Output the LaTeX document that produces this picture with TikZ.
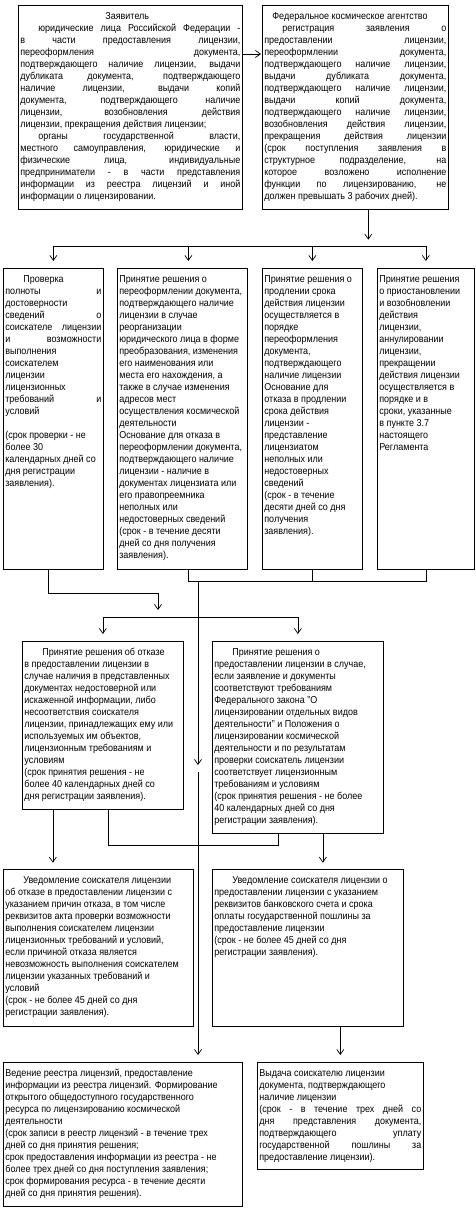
\documentclass[tikz,border=0pt]{standalone}
\usepackage{fontspec}
\setmainfont{Liberation Sans}[FakeStretch=0.9]
\usetikzlibrary{arrows.meta}
\hbadness=10000
\hfuzz=2pt
\newcommand{\blocktext}[3]{\parbox[t][#2][t]{#1}{\fontsize{10}{12}\selectfont\rule{0pt}{14pt}#3}}

\begin{document}
\begin{tikzpicture}[
  x=1pt, y=-1pt,
  flowbox/.style={draw, line width=0.7pt, inner xsep=2pt, inner ysep=0pt, anchor=north west},
  flow/.style={-{Straight Barb[length=5pt,width=7pt]}, line width=0.7pt, shorten >=7pt},
  link/.style={line width=0.7pt}
]
\useasboundingbox (0,0) rectangle (476,1209);

\node[flowbox] (app) at (18,5) {\blocktext{220pt}{204pt}{%
\hspace*{85pt}Заявитель\\
\hspace*{18pt}юридические лица Российской Федерации -\linebreak
в части предоставления лицензии,\linebreak
переоформления документа,\linebreak
подтверждающего наличие лицензии, выдачи\linebreak
дубликата документа, подтверждающего\linebreak
наличие лицензии, выдачи копий\linebreak
документа, подтверждающего наличие\linebreak
лицензии, возобновления действия\linebreak
лицензии, прекращения действия лицензии;\\
\hspace*{18pt}органы государственной власти,\linebreak
местного самоуправления, юридические и\linebreak
физические лица, индивидуальные\linebreak
предприниматели - в части представления\linebreak
информации из реестра лицензий и иной\linebreak
информации о лицензировании.}};

\node[flowbox] (agency) at (262,5) {\blocktext{182pt}{204pt}{%
\hspace*{8pt}Федеральное космическое агентство\\
\hspace*{18pt}регистрация заявления о\linebreak
предоставлении лицензии,\linebreak
переоформлении документа,\linebreak
подтверждающего наличие лицензии,\linebreak
выдачи дубликата документа,\linebreak
подтверждающего наличие лицензии,\linebreak
выдачи копий документа,\linebreak
подтверждающего наличие лицензии,\linebreak
возобновления действия лицензии,\linebreak
прекращения действия лицензии\linebreak
(срок поступления заявления в\linebreak
структурное подразделение, на\linebreak
которое возложено исполнение\linebreak
функции по лицензированию, не\linebreak
должен превышать 3 рабочих дней).}};

\node[flowbox] (check) at (3,268) {\blocktext{96pt}{301pt}{%
\hspace*{18pt}Проверка\\
полноты и\linebreak
достоверности\\
сведений о\linebreak
соискателе лицензии\linebreak
и возможности\linebreak
выполнения\\
соискателем\\
лицензии\\
лицензионных\\
требований и\linebreak
условий\\[12pt]
(срок проверки - не\\
более 30\\
календарных дней со\\
дня регистрации\\
заявления).}};

\node[flowbox] (reissue) at (117,268) {\blocktext{126pt}{301pt}{%
Принятие решения о\\
переоформлении документа,\\
подтверждающего наличие\\
лицензии в случае\\
реорганизации\\
юридического лица в форме\\
преобразования, изменения\\
его наименования или\\
места его нахождения, а\\
также в случае изменения\\
адресов мест\\
осуществления космической\\
деятельности\\
Основание для отказа в\\
переоформлении документа,\\
подтверждающего наличие\\
лицензии - наличие в\\
документах лицензиата или\\
его правопреемника\\
неполных или\\
недостоверных сведений\\
(срок - в течение десяти\\
дней со дня получения\\
заявления).}};

\node[flowbox] (prolong) at (262,268) {\blocktext{96pt}{301pt}{%
Принятие решения о\\
продлении срока\\
действия лицензии\\
осуществляется в\\
порядке\\
переоформления\\
документа,\\
подтверждающего\\
наличие лицензии\\
Основание для\\
отказа в продлении\\
срока действия\\
лицензии -\\
представление\\
лицензиатом\\
неполных или\\
недостоверных\\
сведений\\
(срок - в течение\\
десяти дней со дня\\
получения\\
заявления).}};

\node[flowbox] (suspend) at (377,268) {\blocktext{93pt}{301pt}{%
Принятие решения\\
о приостановлении\\
и возобновлении\\
действия\\
лицензии,\\
аннулировании\\
лицензии,\\
прекращении\\
действия лицензии\\
осуществляется в\\
порядке и в\\
сроки, указанные\\
в пункте 3.7\\
настоящего\\
Регламента}};

\node[flowbox] (refuse) at (22,641) {\blocktext{157pt}{168pt}{%
\hspace*{18pt}Принятие решения об отказе\\
в предоставлении лицензии в\\
случае наличия в представленных\\
документах недостоверной или\\
искаженной информации, либо\\
несоответствия соискателя\\
лицензии, принадлежащих ему или\\
используемых им объектов,\\
лицензионным требованиям и\\
условиям\\
(срок принятия решения - не\\
более 40 календарных дней со\\
дня регистрации заявления).}};

\node[flowbox] (grant) at (212,641) {\blocktext{167pt}{192pt}{%
\hspace*{18pt}Принятие решения о\\
предоставлении лицензии в случае,\\
если заявление и документы\\
соответствуют требованиям\\
Федерального закона "О\\
лицензировании отдельных видов\\
деятельности" и Положения о\\
лицензировании космической\\
деятельности и по результатам\\
проверки соискатель лицензии\\
соответствует лицензионным\\
требованиям и условиям\\
(срок принятия решения - не более\\
40 календарных дней со дня\\
регистрации заявления).}};

\node[flowbox] (notifyno) at (3,869) {\blocktext{186pt}{157pt}{%
\hspace*{18pt}Уведомление соискателя лицензии\\
об отказе в предоставлении лицензии с\\
указанием причин отказа, в том числе\\
реквизитов акта проверки возможности\\
выполнения соискателем лицензии\\
лицензионных требований и условий,\\
если причиной отказа является\\
невозможность выполнения соискателем\\
лицензии указанных требований и\\
условий\\
(срок - не более 45 дней со дня\\
регистрации заявления).}};

\node[flowbox] (notifyyes) at (212,869) {\blocktext{187pt}{157pt}{%
\hspace*{18pt}Уведомление соискателя лицензии о\\
предоставлении лицензии с указанием\\
реквизитов банковского счета и срока\\
оплаты государственной пошлины за\\
предоставление лицензии\\
(срок - не более 45 дней со дня\\
регистрации заявления).}};

\node[flowbox] (register) at (3,1062) {\blocktext{235pt}{144pt}{%
Ведение реестра лицензий, предоставление\\
информации из реестра лицензий. Формирование\\
открытого общедоступного государственного\\
ресурса по лицензированию космической\\
деятельности\\
(срок записи в реестр лицензий - в течение трех\\
дней со дня принятия решения;\\
срок предоставления информации из реестра - не\\
более трех дней со дня поступления заявления;\\
срок формирования ресурса - в течение десяти\\
дней со дня принятия решения).}};

\node[flowbox] (issue) at (257,1062) {\blocktext{162pt}{107pt}{%
Выдача соискателю лицензии\\
документа, подтверждающего\\
наличие лицензии\\
(срок - в течение трех дней со\linebreak
дня представления документа,\linebreak
подтверждающего уплату\linebreak
государственной пошлины за\linebreak
предоставление лицензии).}};

\coordinate (collect) at (0,581);
\coordinate (split) at (158,617);
\coordinate (mid) at (198,772);

\draw[flow, shorten >=1pt] ([yshift=-49pt]app.north east) -- ([yshift=-49pt]agency.north west);
\draw[flow] ([xshift=13pt]agency.south) -- ([xshift=13pt,yshift=-37pt]agency.south);
\draw[link] ([yshift=22pt]check.north) -- ([yshift=22pt]suspend.north);
\draw[flow] ([yshift=22pt]check.north) -- (check.north);
\draw[flow] ([xshift=6pt,yshift=22pt]reissue.north) -- ([xshift=6pt]reissue.north);
\draw[flow] ([yshift=22pt]prolong.north) -- (prolong.north);
\draw[flow] ([yshift=22pt]suspend.north) -- (suspend.north);

\draw[flow] ([xshift=-5pt]check.south) -- ++(0,24) -| (split);
\draw[link] (refuse.north |- split) -- (grant.north |- split);
\draw[flow] (refuse.north |- split) -- (refuse.north);
\draw[flow] (grant.north |- split) -- (grant.north);

\draw[link] ([xshift=6pt]reissue.south) -- ([xshift=6pt,yshift=-12pt]reissue.south) -- ([yshift=-12pt]suspend.south) -- (suspend.south);
\draw[link] (prolong.south) -- ([yshift=-12pt]prolong.south);
\draw[flow] (mid |- collect) -- (mid);
\draw[flow] (mid) -- (mid |- register.north);

\draw[flow] ([xshift=-50pt]refuse.south) -- ([xshift=-50pt,yshift=-60pt]refuse.south);
\draw[link] ([xshift=5pt]refuse.south) -- ++(0,36) -| ([xshift=-20pt]grant.south);
\draw[flow] ([xshift=25pt]grant.south) -- ([xshift=25pt,yshift=-36pt]grant.south);
\draw[flow] (issue.north |- notifyyes.south) -- (issue.north);

\end{tikzpicture}
\end{document}
